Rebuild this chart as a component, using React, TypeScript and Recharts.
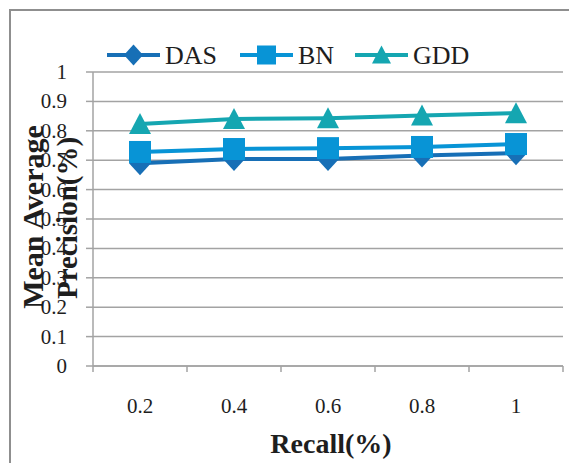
import React from 'react';
import { LineChart, Line, XAxis, YAxis, CartesianGrid, Legend } from 'recharts';

const recall = [0.2, 0.4, 0.6, 0.8, 1];
const das = [0.69, 0.704, 0.704, 0.716, 0.724];
const bn = [0.728, 0.738, 0.741, 0.745, 0.755];
const gdd = [0.823, 0.84, 0.843, 0.852, 0.86];
const yTicks = [0, 0.1, 0.2, 0.3, 0.4, 0.5, 0.6, 0.7, 0.8, 0.9, 1];
const xBoundaries = [0.1, 0.3, 0.5, 0.7, 0.9, 1.1];
const xTicks = [0.1, 0.2, 0.3, 0.4, 0.5, 0.6, 0.7, 0.8, 0.9, 1, 1.1];
const seriesNames = ['DAS', 'BN', 'GDD'];
const seriesKeys = ['das', 'bn', 'gdd'];
const seriesColors = ['#176fb6', '#0894d6', '#15a6b1'];
const seriesShapes = ['diamond', 'square', 'triangle'];

const data = recall.map((r, i) => ({ x: r, das: das[i], bn: bn[i], gdd: gdd[i] }));

const FONT = '"Liberation Serif", "Times New Roman", serif';
const GRID = '#a3a3a3';
const TEXT = '#1e1e1e';

function Marker({ shape, cx, cy, color, size }: any) {
  const h = size / 2;
  if (shape === 'diamond') {
    return <path d={`M${cx},${cy - h - 1} L${cx + h},${cy} L${cx},${cy + h + 1} L${cx - h},${cy} Z`} fill={color} />;
  }
  if (shape === 'square') {
    return <rect x={cx - h} y={cy - h} width={size} height={size} fill={color} />;
  }
  return <path d={`M${cx},${cy - h} L${cx + h},${cy + h - 1} L${cx - h},${cy + h - 1} Z`} fill={color} />;
}

const makeDot = (shape: string, color: string) => (props: any) => {
  const { cx, cy, index } = props;
  if (cx == null || cy == null) return <g key={index} />;
  return <Marker key={index} shape={shape} cx={cx} cy={cy} color={color} size={22} />;
};

const XTick = (props: any) => {
  const { x, y, payload } = props;
  const v = Math.round(payload.value * 10) / 10;
  if (xBoundaries.some((b) => Math.abs(b - v) < 1e-9)) {
    return <line x1={x} y1={y} x2={x} y2={y + 6} stroke={GRID} strokeWidth={1.5} />;
  }
  return (
    <text x={x} y={y + 40} textAnchor="middle" dominantBaseline="central" style={{ fontFamily: FONT, fontSize: 21 }} fill={TEXT}>
      {String(v)}
    </text>
  );
};

const YTick = (props: any) => {
  const { x, y, payload } = props;
  const v = Math.round(payload.value * 10) / 10;
  return (
    <text x={x} y={y} textAnchor="end" dominantBaseline="central" style={{ fontFamily: FONT, fontSize: 21 }} fill={TEXT}>
      {String(v)}
    </text>
  );
};

const legendX = [107, 240, 355];

const LegendContent = () => (
  <svg width={569} height={40} style={{ display: 'block' }}>
    {seriesNames.map((name, i) => {
      const x0 = legendX[i];
      const cy = 18;
      return (
        <g key={name}>
          <line x1={x0} y1={cy} x2={x0 + 53} y2={cy} stroke={seriesColors[i]} strokeWidth={4} />
          <Marker shape={seriesShapes[i]} cx={x0 + 26.5} cy={cy} color={seriesColors[i]} size={19} />
          <text x={x0 + 58} y={cy} dominantBaseline="central" style={{ fontFamily: FONT, fontSize: 26 }} fill={TEXT}>
            {name}
          </text>
        </g>
      );
    })}
  </svg>
);

const YLabel = () => (
  <g fill={TEXT}>
    <text
      transform="translate(32,217) rotate(-90)"
      textAnchor="middle"
      dominantBaseline="central"
      style={{ fontFamily: FONT, fontSize: 30, fontWeight: 'bold' }}
    >
      Mean Average
    </text>
    <text
      transform="translate(67,218) rotate(-90)"
      textAnchor="middle"
      dominantBaseline="central"
      style={{ fontFamily: FONT, fontSize: 29, fontWeight: 'bold' }}
    >
      Precision(%)
    </text>
  </g>
);

const XLabel = () => (
  <text x={331} y={453} textAnchor="middle" style={{ fontFamily: FONT, fontSize: 28, fontWeight: 'bold' }} fill={TEXT}>
    Recall(%)
  </text>
);

export default function App() {
  return (
    <div style={{ position: 'absolute', left: 0, top: 0, width: 569, height: 463, background: '#fff', overflow: 'hidden' }}>
      <div
        style={{
          position: 'absolute',
          left: 9,
          top: 9,
          width: 600,
          height: 500,
          borderTop: '2px solid #8f8f8f',
          borderLeft: '2px solid #8f8f8f',
        }}
      />
      <div style={{ position: 'absolute', left: 0, top: 0 }}>
        <LineChart width={569} height={463} data={data} margin={{ top: 72, right: 6, left: 0, bottom: 0 }}>
          <CartesianGrid horizontal={true} vertical={false} stroke={GRID} strokeWidth={1.5} />
          <XAxis
            dataKey="x"
            type="number"
            domain={[0.1, 1.1]}
            ticks={xTicks}
            interval={0}
            tickSize={0}
            tickMargin={0}
            tickLine={false}
            tick={<XTick />}
            height={97}
            axisLine={{ stroke: GRID, strokeWidth: 1.5 }}
            label={<XLabel />}
          />
          <YAxis
            type="number"
            domain={[0, 1]}
            ticks={yTicks}
            interval={0}
            width={93}
            tickSize={7}
            tickMargin={19}
            tickLine={{ stroke: GRID, strokeWidth: 1.5 }}
            axisLine={{ stroke: GRID, strokeWidth: 1.5 }}
            tick={<YTick />}
            label={<YLabel />}
          />
          <Legend
            layout="horizontal"
            verticalAlign="middle"
            align="center"
            content={<LegendContent />}
            wrapperStyle={{ top: 37, left: 0, width: 569, height: 40 }}
          />
          {seriesKeys.map((k, i) => (
            <Line
              key={k}
              dataKey={k}
              name={seriesNames[i]}
              stroke={seriesColors[i]}
              strokeWidth={4}
              dot={makeDot(seriesShapes[i], seriesColors[i])}
              activeDot={false}
              isAnimationActive={false}
            />
          ))}
        </LineChart>
      </div>
    </div>
  );
}
